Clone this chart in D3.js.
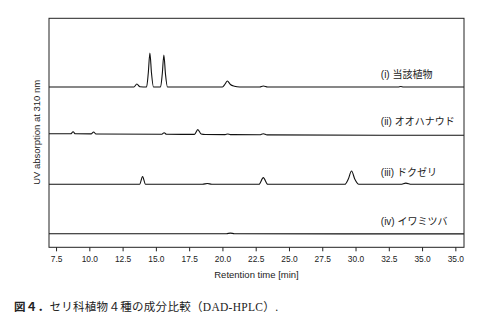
<!DOCTYPE html>
<meta charset="utf-8">
<style>
body { margin: 0; background: #fff; }
.axis text { font: 8.4px "Liberation Sans", Arial, sans-serif; fill: #222; }
.axis line { stroke: #222; stroke-width: 1px; }
.axis path { display: none; }
.frame { fill: none; stroke: #222; stroke-width: 1px; }
.trace { fill: none; stroke: #111; stroke-width: 1.1px; }
.trace-label { font: 10px "Liberation Sans", "Noto Sans CJK JP", sans-serif; fill: #222; }
.axis-title { font: 9.5px "Liberation Sans", Arial, sans-serif; fill: #222; }
.caption { font: 11.5px "Liberation Serif", "Noto Sans CJK JP", serif; fill: #222; letter-spacing: 0.3px; }
</style>
<body>
<svg width="490" height="323"></svg>
<script src="https://cdn.jsdelivr.net/npm/d3@7"></script>
<script>
// retention time axis
var timeDomain = [6.97, 38.15];
var tickValues = [7.5, 10, 12.5, 15, 17.5, 20, 22.5, 25, 27.5, 30, 32.5, 35, 37.5];
var tickLabels = ["7.5", "10.0", "12.5", "15.0", "17.5", "20.0", "22.5", "25.0", "27.5", "30.0", "32.5", "35.0", "35.0"];

// trace names and baseline offsets (absorbance, arbitrary units)
var traceNames = ["(i) 当該植物", "(ii) オオハナウド", "(iii) ドクゼリ", "(iv) イワミツバ"];
var traceOffsets = [160.3, 113.3, 63, 13.6];

// [retention time, signal]
var trace1 = [[6.97,0],[13.35,0],[13.57,3],[13.8,0.3],[14.3,0],[14.43,14],[14.55,34],[14.67,14],[14.82,0],
  [15.35,0],[15.48,13],[15.6,32],[15.72,13],[15.87,0],[20.0,0],[20.2,3],[20.37,6],[20.6,2.5],[20.9,0.8],[21.3,0],
  [22.8,0],[23.07,1],[23.4,0],[33.2,0],[33.4,0.5],[33.6,0],[38.15,0]];
var trace2 = [[6.97,0.3],[8.6,0.2],[8.78,2.2],[8.95,0.2],[10.15,0.1],[10.32,2],[10.5,0],[15.45,-0.2],[15.62,1.3],[15.8,-0.3],
  [17.9,-0.4],[18.15,4.4],[18.4,0],[18.7,-0.5],[20.2,-0.6],[20.4,0],[20.6,-0.6],[22.8,-0.8],[23.07,0.3],[23.35,-0.9],[38.15,-1.3]];
var trace3 = [[6.97,0],[13.78,0],[14.0,7.7],[14.22,0],[18.5,0],[18.87,0.8],[19.2,0],[22.75,0],[23.07,6.7],[23.4,0],
  [29.2,0],[29.45,5],[29.7,13.3],[29.95,5],[30.25,0],[33.4,0],[33.78,1.2],[34.2,0],[38.15,0]];
var trace4 = [[6.97,0],[20.3,0],[20.6,0.6],[20.9,0],[38.15,-0.2]];
var traces = [trace1, trace2, trace3, trace4];

var svg = d3.select("svg"),
    margin = {top: 18.3, right: 26, bottom: 75.7, left: 49},
    width = +svg.attr("width") - margin.left - margin.right,
    height = +svg.attr("height") - margin.top - margin.bottom;

var x = d3.scaleLinear().domain(timeDomain).range([0, width]);
var y = d3.scaleLinear().domain([0, 229]).range([height, 0]);

var g = svg.append("g")
    .attr("transform", "translate(" + margin.left + "," + margin.top + ")");

var line = d3.line()
    .curve(d3.curveMonotoneX)
    .x(function(d) { return x(d[0]); })
    .y(function(d) { return y(d[1]); });

g.append("g")
    .attr("class", "axis axis--x")
    .attr("transform", "translate(0," + height + ")")
    .call(d3.axisBottom(x).tickValues(tickValues).tickSize(4).tickPadding(4.5)
      .tickFormat(function(d, i) { return tickLabels[i]; }));

traces.forEach(function(t, i) {
  var off = traceOffsets[i];
  g.append("path")
      .datum(t.map(function(p) { return [p[0], p[1] + off]; }))
      .attr("class", "trace")
      .attr("d", line);

  g.append("text")
      .attr("class", "trace-label")
      .attr("x", x(31.9))
      .attr("y", y(off) - 8.5)
      .text(traceNames[i]);
});

g.append("rect")
    .attr("class", "frame")
    .attr("width", width)
    .attr("height", height);

g.append("text")
    .attr("class", "axis-title")
    .attr("x", width / 2)
    .attr("y", height + 31)
    .attr("text-anchor", "middle")
    .text("Retention time [min]");

g.append("text")
    .attr("class", "axis-title")
    .attr("transform", "rotate(-90)")
    .attr("x", -height / 2 + 0.5)
    .attr("y", -9)
    .attr("text-anchor", "middle")
    .text("UV absorption at 310 nm");

var cap = svg.append("text")
    .attr("class", "caption")
    .attr("x", 14)
    .attr("y", 311);
cap.append("tspan").attr("font-weight", "bold").attr("font-family", "Noto Sans CJK JP").text("図４．");
cap.append("tspan").text("セリ科植物４種の成分比較（DAD-HPLC）.");
</script>
</body>
